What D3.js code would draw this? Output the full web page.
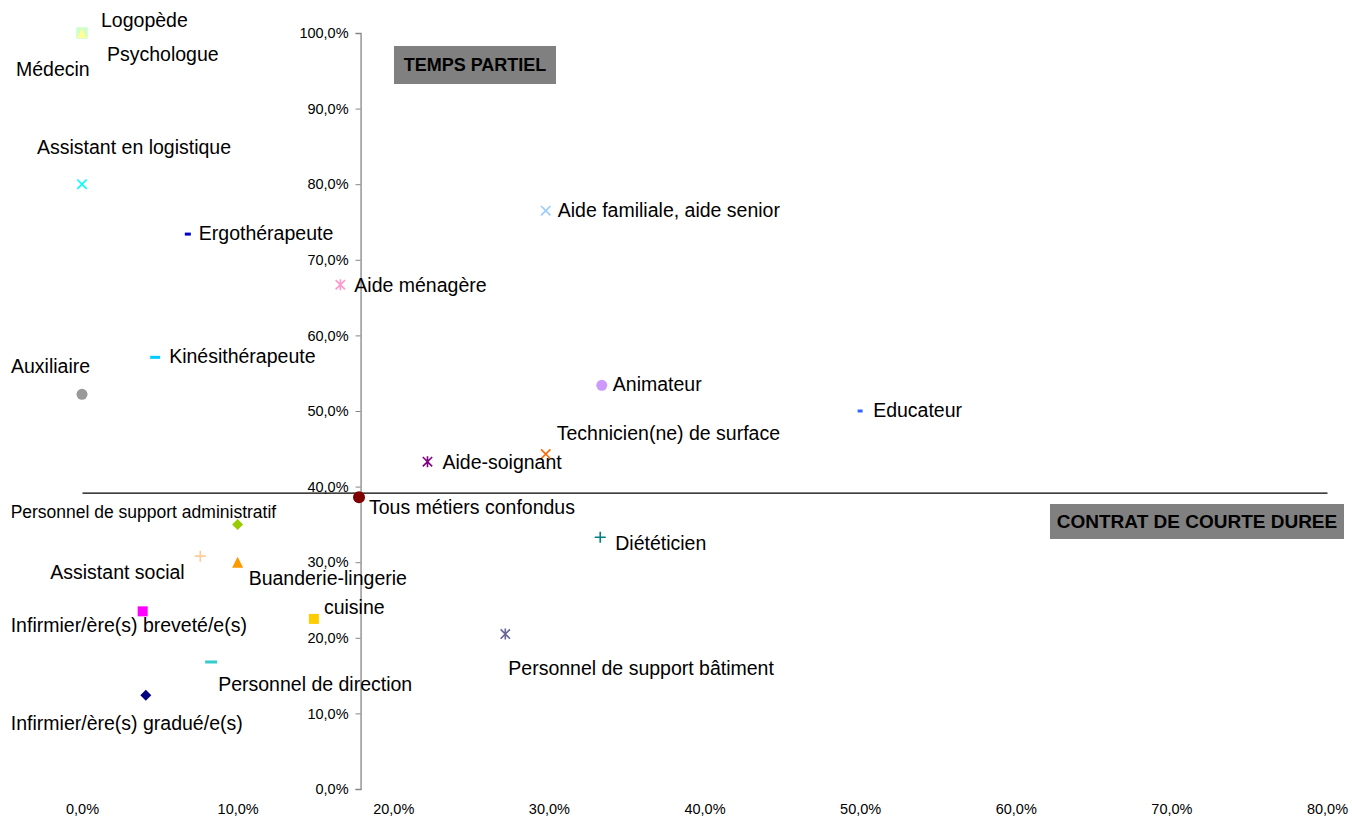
<!DOCTYPE html>
<html>
<meta charset="utf-8">
<script src="https://d3js.org/d3.v7.min.js"></script>
<title>Temps partiel et contrats de courte durée par métier</title>
<style>
  body { margin: 0; background: #fff; }
  text { font-family: "Liberation Sans", Arial, sans-serif; }
</style>
<body>
<div id="chart"></div>
<script>
// data: % contrats de courte durée (x) et % temps partiel (y)
var metiers = ["Médecin", "Psychologue", "Logopède", "Assistant en logistique", "Ergothérapeute",
  "Aide familiale, aide senior", "Aide ménagère", "Kinésithérapeute", "Auxiliaire", "Animateur",
  "Educateur", "Technicien(ne) de surface", "Aide-soignant", "Tous métiers confondus",
  "Personnel de support administratif", "Assistant social", "Buanderie-lingerie", "Diététicien",
  "Infirmier/ère(s) breveté/e(s)", "cuisine", "Personnel de support bâtiment",
  "Personnel de direction", "Infirmier/ère(s) gradué/e(s)"];
var contratCourt = [0, 0, 0, 0, 6.8, 29.8, 16.6, 4.7, 0, 33.4, 50.0, 29.8, 22.2, 17.8,
  10.0, 7.6, 10.0, 33.3, 3.9, 14.9, 27.2, 8.3, 4.1];
var tempsPartiel = [100, 100, 100, 80.0, 73.4, 76.5, 66.7, 57.1, 52.2, 53.4, 50.0, 44.3, 43.3, 38.6,
  35.0, 30.8, 30.0, 33.3, 23.5, 22.5, 20.5, 16.8, 12.4];
var xTicks = [0, 10, 20, 30, 40, 50, 60, 70, 80];
var yTicks = [0, 10, 20, 30, 40, 50, 60, 70, 80, 90, 100];
var croisement = {x: 17.9, y: 39.2};   // where the axes cross

// marker look for each série
var markers = [
  {shape: "square", color: "#ccffcc", size: 11},
  {shape: "square", color: "#ccffcc", size: 11},
  {shape: "triangle", color: "#ffff99", size: 10},
  {shape: "x", color: "#00ffff", size: 11},
  {shape: "dash", color: "#0000cc", size: 6},
  {shape: "x", color: "#99ccff", size: 11},
  {shape: "star", color: "#ff99cc", size: 11},
  {shape: "dash", color: "#00ccff", size: 10},
  {shape: "circle", color: "#999999", size: 11},
  {shape: "circle", color: "#cc99ff", size: 11},
  {shape: "dash", color: "#3366ff", size: 5},
  {shape: "x", color: "#ff6600", size: 11},
  {shape: "star", color: "#800080", size: 11},
  {shape: "circle", color: "#800000", size: 12},
  {shape: "diamond", color: "#99cc00", size: 11},
  {shape: "plus", color: "#ffcc99", size: 11},
  {shape: "triangle", color: "#ff9900", size: 11},
  {shape: "plus", color: "#008080", size: 11},
  {shape: "square", color: "#ff00ff", size: 10},
  {shape: "square", color: "#ffcc00", size: 10},
  {shape: "star", color: "#666699", size: 11},
  {shape: "dash", color: "#33cccc", size: 12},
  {shape: "diamond", color: "#000080", size: 11}
];
// label offset from its point (dx, dy of baseline)
var labelOffsets = [[-66, 43], [25, 28], [19, -6], [-45, -30], [11, 6], [12, 6], [14, 7], [14, 6],
  [-71, -21], [11, 6], [13, 6], [11, -14], [15, 7], [10, 17], [-227, -6], [-150, 23], [11, 23],
  [15, 13], [-132, 21], [10, -5], [3, 41], [7, 29], [-135, 35]];

var margin = {top: 33, right: 25, bottom: 29, left: 82},
    width = 1352 - margin.left - margin.right,
    height = 818 - margin.top - margin.bottom;

var x = d3.scaleLinear().domain([0, 80]).range([0, width]);
var y = d3.scaleLinear().domain([0, 100]).range([height, 0]);

var fr = d3.formatLocale({decimal: ",", thousands: " ", grouping: [3], currency: ["", " €"]});
var pct = function(d) { return fr.format(".1f")(d) + "%"; };

var svg = d3.select("#chart").append("svg")
    .attr("width", 1352)
    .attr("height", 818)
  .append("g")
    .attr("transform", "translate(" + margin.left + "," + margin.top + ")");

// quadrant boxes
function boxLabel(txt, bx, by, bw, bh, fs) {
  svg.append("rect")
    .attr("x", bx).attr("y", by).attr("width", bw).attr("height", bh)
    .attr("fill", "#808080");
  svg.append("text")
    .attr("x", bx + bw / 2).attr("y", by + bh / 2)
    .attr("dy", "0.36em")
    .attr("text-anchor", "middle")
    .style("font-size", fs + "px")
    .style("font-weight", "bold")
    .text(txt);
}
boxLabel("TEMPS PARTIEL", 312, 13, 162, 38, 18);
boxLabel("CONTRAT DE COURTE DUREE", 968, 471, 294, 35, 19);

// x axis: line at the crossing, labels low
var xAxis = svg.append("g")
    .attr("transform", "translate(0," + y(croisement.y) + ")")
    .call(d3.axisBottom(x).tickValues(xTicks).tickFormat(pct)
      .tickSize(0).tickPadding(y(0) - y(croisement.y) + 15));
xAxis.select(".domain").attr("stroke", "#000").attr("stroke-width", 1.3);
xAxis.selectAll("text").style("font-size", "14.5px").attr("fill", "#000").attr("font-family", null);

// y axis at the crossing
var yAxis = svg.append("g")
    .attr("transform", "translate(" + x(croisement.x) + ",0)")
    .call(d3.axisLeft(y).tickValues(yTicks).tickFormat(pct).tickSize(5).tickPadding(7));
yAxis.select(".domain").attr("stroke", "#868686").attr("stroke-width", 1.3);
yAxis.selectAll(".tick line").attr("stroke", "#868686");
yAxis.selectAll("text").style("font-size", "14.5px").attr("fill", "#000").attr("font-family", null);

// markers
function drawMarker(g, m) {
  var s = m.size, h = s / 2;
  if (m.shape == "square") {
    g.append("rect").attr("x", -h).attr("y", -h).attr("width", s).attr("height", s).attr("fill", m.color);
  } else if (m.shape == "circle") {
    g.append("circle").attr("r", h).attr("fill", m.color);
  } else if (m.shape == "triangle") {
    g.append("path").attr("d", "M0," + (-h) + "L" + h + "," + h + "L" + (-h) + "," + h + "Z").attr("fill", m.color);
  } else if (m.shape == "diamond") {
    g.append("path").attr("d", "M0," + (-h) + "L" + h + ",0L0," + h + "L" + (-h) + ",0Z").attr("fill", m.color);
  } else if (m.shape == "dash") {
    g.append("rect").attr("x", -h).attr("y", -1.5).attr("width", s).attr("height", 3).attr("fill", m.color);
  } else {
    var d = "";
    var k = h * 0.85;
    if (m.shape == "x" || m.shape == "star") d += "M" + (-k) + "," + (-k) + "L" + k + "," + k + "M" + (-k) + "," + k + "L" + k + "," + (-k);
    if (m.shape == "plus") d += "M" + (-h) + ",0L" + h + ",0M0," + (-h) + "L0," + h;
    if (m.shape == "star") d += "M0," + (-h) + "L0," + h;
    g.append("path").attr("d", d).attr("stroke", m.color).attr("stroke-width", 1.6).attr("fill", "none");
  }
}

var points = svg.selectAll(".point")
    .data(metiers)
  .enter().append("g")
    .attr("class", "point")
    .attr("transform", function(d, i) { return "translate(" + x(contratCourt[i]) + "," + y(tempsPartiel[i]) + ")"; });
points.each(function(d, i) { drawMarker(d3.select(this), markers[i]); });

// labels
svg.selectAll(".label")
    .data(metiers)
  .enter().append("text")
    .attr("class", "label")
    .attr("x", function(d, i) { return x(contratCourt[i]) + labelOffsets[i][0]; })
    .attr("y", function(d, i) { return y(tempsPartiel[i]) + labelOffsets[i][1]; })
    .style("font-size", function(d) { return d == "Personnel de support administratif" ? "17.5px" : "19.5px"; })
    .style("fill", "#000")
    .text(function(d) { return d; });
</script>
</body>
</html>
